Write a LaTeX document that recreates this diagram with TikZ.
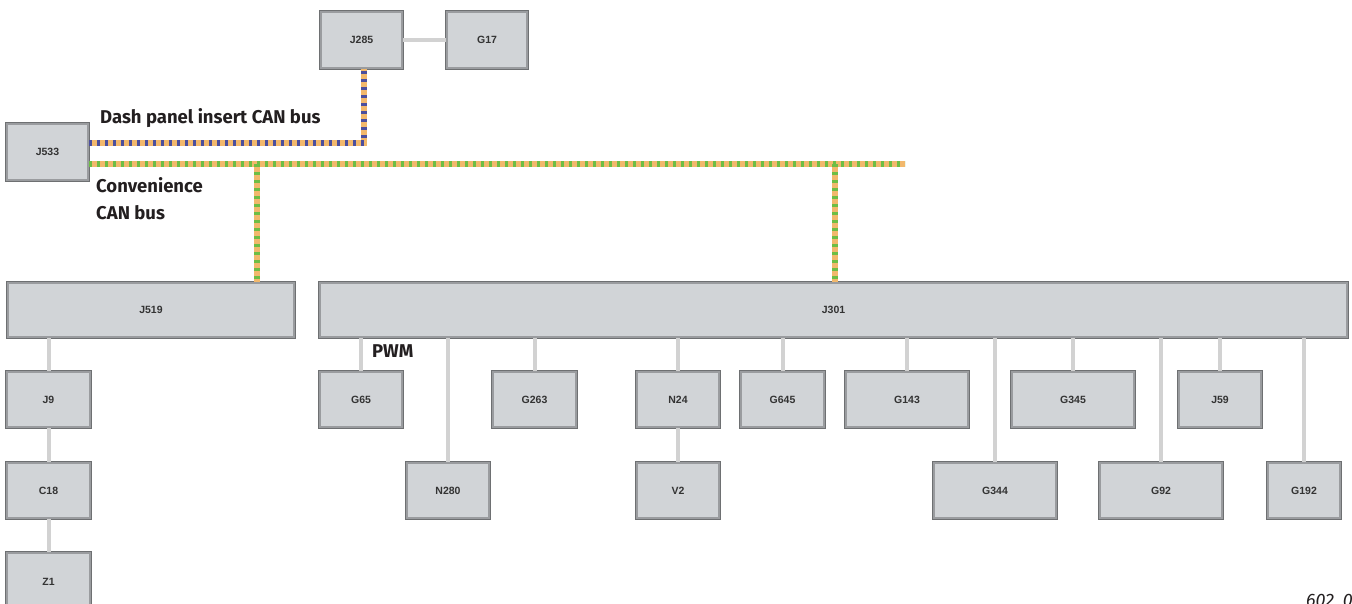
\documentclass[tikz,border=0pt]{standalone}
\usepackage{fontspec}
\setmainfont{Fira Sans}
\newfontfamily\boxfont{Liberation Sans}
\definecolor{boxfill}{HTML}{D1D4D7}
\definecolor{boxedge}{HTML}{9A9C9F}
\definecolor{boxdark}{HTML}{6E7072}
\definecolor{boxtext}{HTML}{333333}
\definecolor{connc}{HTML}{D2D2D2}
\definecolor{busorange}{HTML}{F2B86C}
\definecolor{busgreen}{HTML}{6DBE45}
\definecolor{buspurple}{HTML}{4B4E9E}
\definecolor{labeltext}{HTML}{231F20}
\begin{document}
\begin{tikzpicture}[x=1pt,y=-1pt,
  box/.style={preaction={draw=boxdark, line width=3.6pt}, draw=boxedge, line width=2pt, fill=boxfill, inner sep=0pt,
    font=\boxfont\bfseries\fontsize{10.5}{12}\selectfont, text=boxtext},
  conn/.style={draw=connc, line width=4pt},
  busbase/.style={draw=busorange, line width=5.5pt},
  convbus/.style={draw=busgreen, line width=5.5pt, dash pattern=on 3pt off 5pt},
  dashbus/.style={draw=buspurple, line width=5.5pt, dash pattern=on 3pt off 5pt},
  buslabel/.style={font=\bfseries\fontsize{18.5}{27}\selectfont, text=labeltext, inner sep=0pt, anchor=west, align=left},
  fig/.style={font=\itshape\fontsize{18}{20}\selectfont, text=labeltext, inner sep=0pt, anchor=base west}
]
\useasboundingbox (0,0) rectangle (1352,603);
\clip (0,0) rectangle (1352,603);
\fill[white] (0,0) rectangle (1352,603);
\newcommand\bx[6]{\node[box, minimum width={(#4-#2)*1pt}, minimum height={(#5-#3)*1pt}] (#1) at ({(#2+#4)/2},{(#3+#5)/2}) {#6};}
% top
\bx{J285}{321}{12}{402}{68}{J285}
\bx{G17}{447}{12}{527}{68}{G17}
\bx{J533}{7}{124}{88}{180}{J533}
% main modules
\bx{J519}{8}{283}{294}{337}{J519}
\bx{J301}{320}{283}{1347}{337}{J301}
% J519 chain
\bx{J9}{7}{372}{90}{427}{J9}
\bx{C18}{7}{463}{90}{518}{C18}
\bx{Z1}{7}{553}{90}{610}{Z1}
% J301 top row
\bx{G65}{320}{372}{402}{427}{G65}
\bx{G263}{493}{372}{576}{427}{G263}
\bx{N24}{637}{372}{719}{427}{N24}
\bx{G645}{741}{372}{824}{427}{G645}
\bx{G143}{846}{372}{968}{427}{G143}
\bx{G345}{1012}{372}{1134}{427}{G345}
\bx{J59}{1179}{372}{1261}{427}{J59}
% J301 bottom row
\bx{N280}{407}{463}{489}{518}{N280}
\bx{V2}{637}{463}{719}{518}{V2}
\bx{G344}{934}{463}{1056}{518}{G344}
\bx{G92}{1100}{463}{1222}{518}{G92}
\bx{G192}{1268}{463}{1340}{518}{G192}
% connectors
\draw[conn] (J285.east) -- (G17.west);
\draw[conn] (J9.north) -- (J9.north |- J519.south);
\draw[conn] (C18.north) -- (J9.south);
\draw[conn] (Z1.north) -- (C18.south);
\foreach \n in {G65,G263,N24,G645,G143,G345,J59,N280,G344,G92,G192}
  \draw[conn] (\n.north) -- (\n.north |- J301.south);
\draw[conn] (V2.north) -- (N24.south);
% buses
\coordinate (db) at (364,143);
\coordinate (cbend) at (905,164);
\coordinate (t1) at (257,164);
\coordinate (t2) at (835,164);
\draw[busbase] (J533.east |- db) -- (db) -- (db |- J285.south);
\draw[dashbus] (J533.east |- db) -- (db) -- (db |- J285.south);
\draw[busbase] (J533.east |- cbend) -- (cbend);
\draw[busbase] (t1) -- (t1 |- J519.north);
\draw[busbase] (t2) -- (t2 |- J301.north);
\draw[convbus] (J533.east |- cbend) -- (cbend);
\draw[convbus] (t1) -- (t1 |- J519.north);
\draw[convbus] (t2) -- (t2 |- J301.north);
% labels
\node[buslabel] (lbdash) at (100,118) {Dash panel insert CAN bus};
\node[buslabel] (lbconv) at (96,199) {Convenience\\CAN bus};
\node[buslabel] (lbpwm) at (372,351) {PWM};
\node[fig] (figno) at (1306,606) {602\_002};
\end{tikzpicture}
\end{document}
